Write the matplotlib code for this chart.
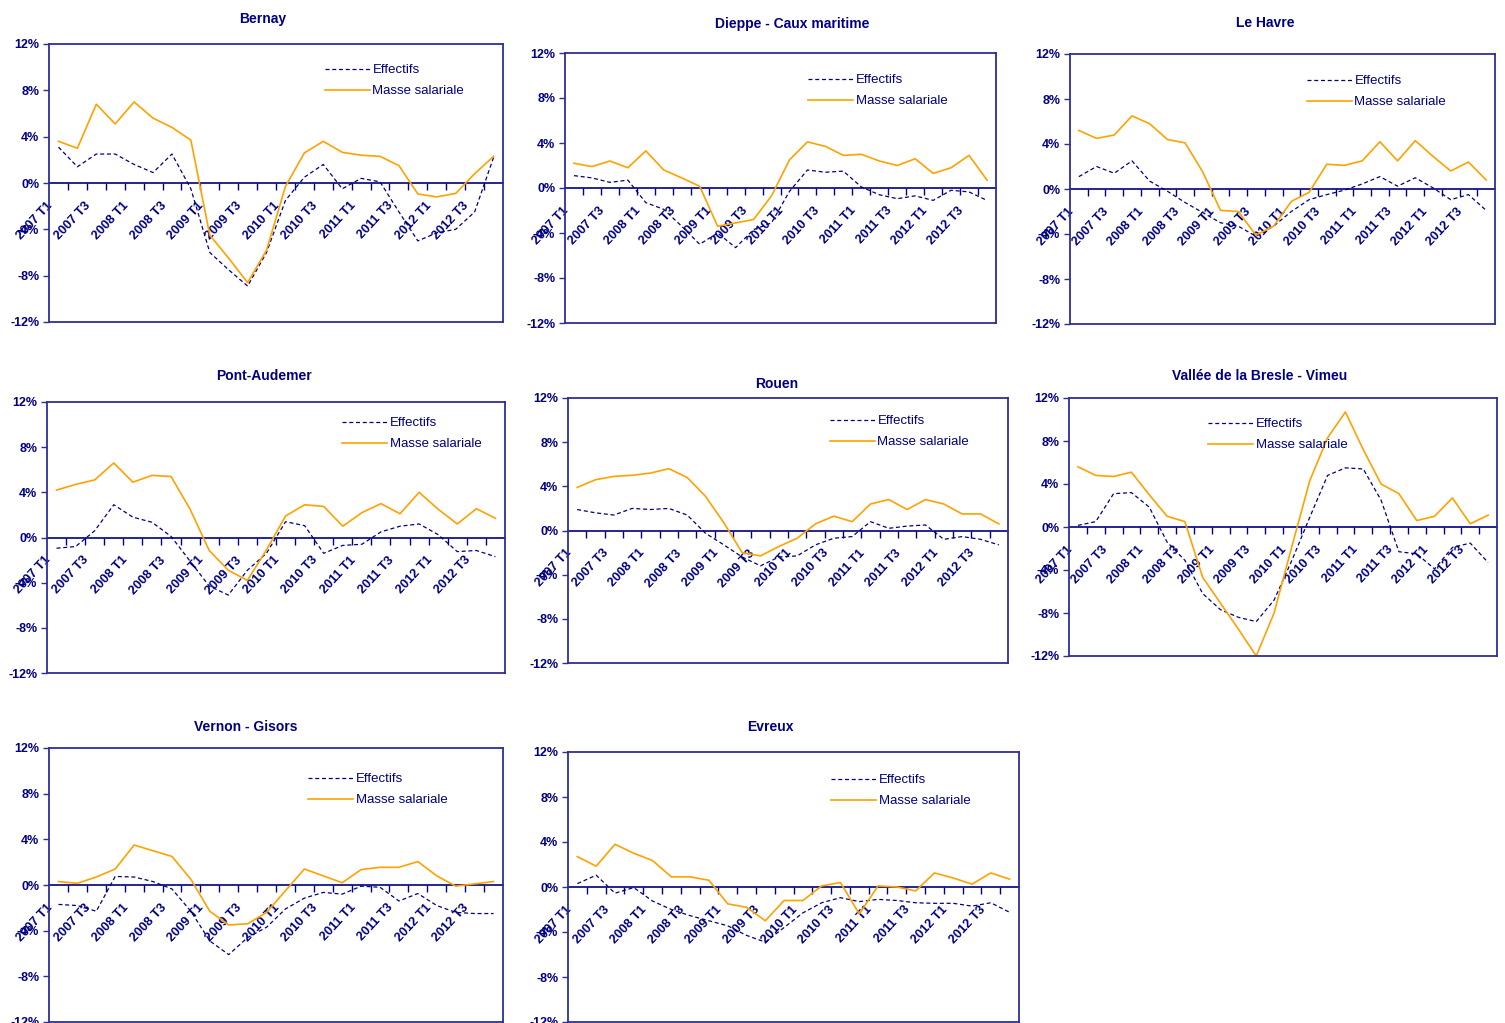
import matplotlib
matplotlib.use('Agg')
import matplotlib.pyplot as plt
import matplotlib.transforms as mtrans
from matplotlib.ticker import FuncFormatter

W, H = 1505, 1023
plt.rcParams['font.family'] = ['Liberation Sans', 'DejaVu Sans']

quarters = ["2007 T1", "2007 T2", "2007 T3", "2007 T4",
            "2008 T1", "2008 T2", "2008 T3", "2008 T4",
            "2009 T1", "2009 T2", "2009 T3", "2009 T4",
            "2010 T1", "2010 T2", "2010 T3", "2010 T4",
            "2011 T1", "2011 T2", "2011 T3", "2011 T4",
            "2012 T1", "2012 T2", "2012 T3", "2012 T4"]
tick_labels = quarters[::2]
y_ticks = [-12, -8, -4, 0, 4, 8, 12]

titles = ["Bernay", "Dieppe - Caux maritime", "Le Havre", "Pont-Audemer",
          "Rouen", "Vallée de la Bresle - Vimeu", "Vernon - Gisors", "Evreux"]

bernay_eff = [3.1, 1.4, 2.5, 2.5, 1.6, 0.9, 2.5, -0.5, -6.0, -7.5, -8.9, -6.0,
              -1.5, 0.5, 1.6, -0.5, 0.4, 0.1, -2.5, -5.0, -4.3, -4.0, -2.5, 2.2]
bernay_mas = [3.6, 3.0, 6.8, 5.1, 7.0, 5.6, 4.8, 3.7, -4.5, -6.5, -8.6, -5.8,
              -0.3, 2.6, 3.6, 2.65, 2.4, 2.3, 1.5, -0.95, -1.2, -0.9, 0.8, 2.3]

dieppe_eff = [1.1, 0.9, 0.5, 0.7, -1.3, -1.9, -3.4, -5.0, -4.0, -5.3, -3.7, -3.1,
              -0.3, 1.6, 1.4, 1.5, 0.1, -0.6, -0.95, -0.7, -1.1, -0.2, -0.35, -1.1]
dieppe_mas = [2.2, 1.9, 2.4, 1.8, 3.3, 1.6, 0.9, 0.15, -3.4, -3.1, -2.8, -0.7,
              2.5, 4.1, 3.7, 2.9, 3.0, 2.4, 2.0, 2.6, 1.3, 1.8, 2.9, 0.7]

havre_eff = [1.1, 2.0, 1.4, 2.5, 0.7, -0.2, -1.2, -2.1, -3.0, -3.3, -4.2, -3.3,
             -2.0, -0.95, -0.5, -0.1, 0.45, 1.1, 0.25, 1.0, 0.1, -0.95, -0.5, -1.9]
havre_mas = [5.2, 4.5, 4.8, 6.5, 5.8, 4.4, 4.1, 1.5, -1.9, -2.0, -4.1, -3.3,
             -1.1, -0.3, 2.2, 2.1, 2.5, 4.2, 2.5, 4.3, 2.9, 1.6, 2.4, 0.8]

pont_eff = [-0.95, -0.8, 0.6, 2.9, 1.8, 1.35, 0.1, -2.1, -4.3, -5.1, -2.9, -1.4,
            1.4, 1.05, -1.4, -0.7, -0.6, 0.5, 1.0, 1.2, 0.25, -1.25, -1.15, -1.7]
pont_mas = [4.2, 4.7, 5.1, 6.6, 4.9, 5.5, 5.4, 2.5, -1.15, -2.9, -3.8, -1.1,
            1.9, 2.9, 2.75, 1.0, 2.2, 3.0, 2.1, 4.0, 2.5, 1.2, 2.55, 1.7]

rouen_eff = [1.9, 1.6, 1.4, 2.0, 1.9, 2.0, 1.4, -0.25, -1.3, -2.4, -3.2, -2.4,
             -2.3, -1.3, -0.7, -0.55, 0.8, 0.2, 0.4, 0.5, -0.8, -0.55, -0.8, -1.3]
rouen_mas = [3.9, 4.6, 4.9, 5.0, 5.2, 5.6, 4.8, 3.1, 0.7, -2.0, -2.3, -1.45,
             -0.7, 0.6, 1.3, 0.8, 2.4, 2.8, 1.9, 2.8, 2.4, 1.5, 1.5, 0.6]

vallee_eff = [0.15, 0.5, 3.1, 3.2, 1.85, -1.4, -3.1, -6.2, -7.7, -8.4, -8.8, -6.8,
              -3.1, 0.9, 4.8, 5.5, 5.4, 2.5, -2.3, -2.5, -3.9, -1.9, -1.5, -3.3]
vallee_mas = [5.6, 4.8, 4.7, 5.1, 3.0, 1.0, 0.5, -4.7, -7.1, -9.5, -12.0, -8.0,
              -1.8, 4.3, 8.3, 10.7, 7.2, 4.0, 3.1, 0.6, 1.0, 2.7, 0.3, 1.1]

vernon_eff = [-1.7, -1.8, -2.3, 0.75, 0.7, 0.3, -0.35, -2.3, -4.9, -6.1, -4.6, -3.7,
              -2.1, -1.15, -0.65, -0.8, -0.1, -0.2, -1.4, -0.75, -1.8, -2.4, -2.5, -2.5]
vernon_mas = [0.3, 0.15, 0.7, 1.4, 3.5, 3.0, 2.5, 0.5, -2.3, -3.5, -3.4, -2.4,
              -0.5, 1.4, 0.8, 0.2, 1.35, 1.55, 1.55, 2.05, 0.8, -0.1, 0.1, 0.3]

evreux_eff = [0.3, 1.05, -0.55, -0.05, -1.25, -2.0, -2.55, -3.0, -3.45, -4.3, -4.9, -3.6,
              -2.3, -1.4, -0.95, -1.3, -1.1, -1.2, -1.4, -1.45, -1.45, -1.7, -1.4, -2.25]
evreux_mas = [2.7, 1.85, 3.8, 3.0, 2.35, 0.9, 0.9, 0.6, -1.5, -1.8, -3.0, -1.2,
              -1.2, 0.1, 0.4, -2.4, 0.1, 0.0, -0.35, 1.25, 0.8, 0.25, 1.25, 0.7]

effectifs = [bernay_eff, dieppe_eff, havre_eff, pont_eff, rouen_eff, vallee_eff, vernon_eff, evreux_eff]
masse = [bernay_mas, dieppe_mas, havre_mas, pont_mas, rouen_mas, vallee_mas, vernon_mas, evreux_mas]

# layout (pixels): axes left, top, right, bottom ; title centre ; legend start
axes_px = [(49, 44, 503, 322), (565, 53, 996, 323), (1070, 54, 1495, 324),
           (47, 402, 505, 673), (568, 398, 1008, 663), (1069, 398, 1497, 656),
           (49, 748, 503, 1022), (568, 752, 1019, 1022)]
title_px = [(263, 19), (792, 24), (1265, 23), (264, 376), (777, 384), (1260, 376),
            (246, 727), (770, 727)]
legend_px = [(325, 69), (808, 79), (1307, 80), (342, 422), (830, 420), (1208, 423),
             (308, 778), (831, 779)]

NAVY = '#000080'
FRAME = '#2E2E96'
ORANGE = '#FFA200'

fig = plt.figure(figsize=(W / 100, H / 100), dpi=100)
fig.patch.set_facecolor('white')

pct = FuncFormatter(lambda v, p: f"{v:.0f}%")
xs = list(range(len(quarters)))

for k in range(8):
    l, t, r, b = axes_px[k]
    ax = fig.add_axes([l / W, 1 - b / H, (r - l) / W, (b - t) / H])
    ax.plot(xs, effectifs[k], color=NAVY, lw=0.9, ls=(0, (3.2, 2.2)), label='Effectifs')
    ax.plot(xs, masse[k], color=ORANGE, lw=1.2, label='Masse salariale')
    ax.set_xlim(-0.5, len(quarters) - 0.5)
    ax.set_ylim(-12, 12)
    ax.set_yticks(y_ticks)
    ax.yaxis.set_major_formatter(pct)
    ax.tick_params(axis='y', direction='out', length=4, width=1, color=FRAME,
                   labelcolor=NAVY, labelsize=9, pad=3)
    for lab in ax.get_yticklabels():
        lab.set_fontweight('bold')
    ax.set_xticks([])
    for s in ax.spines.values():
        s.set_color(FRAME)
        s.set_linewidth(1.3)

    sec = ax.secondary_xaxis(0.5)
    sec.set_alignment('bottom')
    sec.set_xticks([i - 0.5 for i in range(1, len(quarters))])
    sec.set_xticklabels([])
    sec.set_xticks(xs[::2], tick_labels, minor=True)
    sec.tick_params(which='major', direction='out', length=5, width=1, color=NAVY)
    sec.tick_params(which='minor', length=0, pad=12, labelsize=9.2, labelcolor=NAVY)
    for s in sec.spines.values():
        s.set_color(NAVY)
        s.set_linewidth(1.2)
    off = mtrans.ScaledTranslation(-0.12, 0, fig.dpi_scale_trans)
    for lab in sec.get_xticklabels(minor=True):
        lab.set_rotation(47)
        lab.set_ha('right')
        lab.set_va('top')
        lab.set_rotation_mode('anchor')
        lab.set_fontweight('bold')
        lab.set_transform(lab.get_transform() + off)

    hx, hy = legend_px[k]
    ax.legend(loc='upper left', bbox_to_anchor=(hx / W, 1 - (hy - 5) / H),
              bbox_transform=fig.transFigure, frameon=False, borderpad=0,
              borderaxespad=0, handlelength=3.4, handletextpad=0.2,
              labelspacing=0.68, fontsize=9.5, labelcolor=NAVY)

    tx, ty = title_px[k]
    fig.text(tx / W, 1 - ty / H, titles[k], ha='center', va='center',
             fontsize=10, fontweight='bold', color=NAVY)

fig.savefig('out.png', dpi=100, facecolor='white')
